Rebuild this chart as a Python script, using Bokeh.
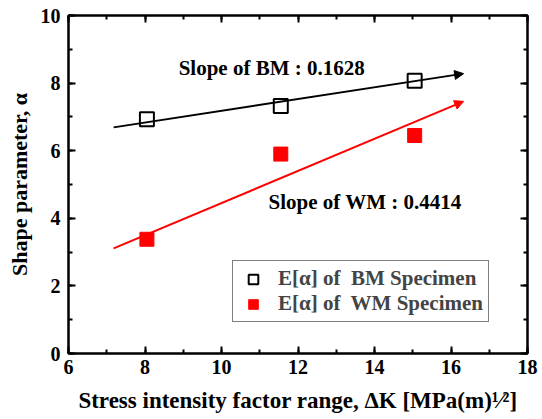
from bokeh.plotting import figure
from bokeh.models import (Range1d, LinearAxis, SingleIntervalTicker, Arrow, NormalHead,
                          Label, Legend, LegendItem, ColumnDataSource)
from bokeh.embed import file_html
from bokeh.resources import INLINE

# data
dk = [8.05, 11.55, 15.05]
bm_alpha = [6.93, 7.32, 8.07]
wm_alpha = [3.38, 5.90, 6.45]
fit_x = [7.18, 16.33]
bm_fit = [6.69, 8.28]
wm_fit = [3.11, 7.46]
bm_slope_text = "Slope of BM : 0.1628"
wm_slope_text = "Slope of WM : 0.4414"
x_ticks = [6, 8, 10, 12, 14, 16, 18]
y_ticks = [0, 2, 4, 6, 8, 10]

FONT = "Liberation Serif"

p = figure(width=542, height=419, output_backend="svg", toolbar_location=None,
           x_range=Range1d(6, 18), y_range=Range1d(0, 10),
           min_border_left=68, min_border_right=15, min_border_top=15, min_border_bottom=66)
p.grid.visible = False
p.outline_line_color = "black"
p.outline_line_width = 2
p.background_fill_color = "white"
p.border_fill_color = "white"

p.xaxis.ticker = SingleIntervalTicker(interval=2, num_minor_ticks=2)
p.yaxis.ticker = SingleIntervalTicker(interval=2, num_minor_ticks=2)

def style_axis(ax):
    ax.axis_line_width = 2
    ax.axis_line_color = "black"
    ax.major_tick_in = 7
    ax.major_tick_out = 0
    ax.minor_tick_in = 4
    ax.minor_tick_out = 0
    ax.major_tick_line_width = 2
    ax.minor_tick_line_width = 2
    ax.major_label_text_font = FONT
    ax.major_label_text_font_style = "bold"
    ax.major_label_text_font_size = "20px"
    ax.major_label_text_color = "black"
    ax.axis_label_text_font = FONT
    ax.axis_label_text_font_style = "bold"
    ax.axis_label_text_font_size = "23px"
    ax.axis_label_text_color = "black"

style_axis(p.xaxis[0])
style_axis(p.yaxis[0])
p.yaxis.axis_label_text_font_size = "22px"
p.xaxis.major_label_standoff = 6
p.yaxis.major_label_standoff = 8
p.xaxis.axis_label = "Stress intensity factor range, \u0394K [MPa(m)\u00b9\u2044\u00b2]"
p.yaxis.axis_label = "Shape parameter, \u03b1"
p.xaxis.axis_label_standoff = 11
p.yaxis.axis_label_standoff = 6

top = LinearAxis(ticker=SingleIntervalTicker(interval=2, num_minor_ticks=2))
right = LinearAxis(ticker=SingleIntervalTicker(interval=2, num_minor_ticks=2))
style_axis(top)
style_axis(right)
top.major_label_overrides = {t: "" for t in x_ticks}
right.major_label_overrides = {t: "" for t in y_ticks}
top.major_label_standoff = 0
right.major_label_standoff = 0
p.add_layout(top, "above")
p.add_layout(right, "right")

# fit lines with arrows
p.add_layout(Arrow(x_start=fit_x[0], y_start=bm_fit[0], x_end=fit_x[1], y_end=bm_fit[1],
                   line_color="black", line_width=2,
                   end=NormalHead(size=9, fill_color="black", line_color="black", line_width=1)))
p.add_layout(Arrow(x_start=fit_x[0], y_start=wm_fit[0], x_end=fit_x[1], y_end=wm_fit[1],
                   line_color="red", line_width=2,
                   end=NormalHead(size=9, fill_color="red", line_color="red", line_width=1)))

src = ColumnDataSource(dict(x=dk, bm=bm_alpha, wm=wm_alpha))
r_bm = p.scatter("x", "bm", source=src, marker="square", size=14, fill_color="white",
                 line_color="black", line_width=2)
r_wm = p.scatter("x", "wm", source=src, marker="square", size=14, fill_color="red",
                 line_color="red", line_width=1)

p.add_layout(Label(x=8.88, y=8.46, text=bm_slope_text, text_font=FONT, text_font_style="bold",
                   text_font_size="21px", text_baseline="middle", text_color="black"))
p.add_layout(Label(x=11.23, y=4.47, text=wm_slope_text, text_font=FONT, text_font_style="bold",
                   text_font_size="21px", text_baseline="middle", text_color="black"))

legend = Legend(items=[LegendItem(label="E[\u03b1] of  BM Specimen", renderers=[r_bm]),
                       LegendItem(label="E[\u03b1] of  WM Specimen", renderers=[r_wm])],
                location=(164, 31))
legend.label_text_font = FONT
legend.label_text_font_style = "bold"
legend.label_text_font_size = "21px"
legend.border_line_color = "black"
legend.border_line_width = 1
legend.background_fill_alpha = 1
legend.padding = 5
legend.spacing = 0
legend.margin = 0
legend.label_height = 24
legend.glyph_height = 24
legend.glyph_width = 30
legend.label_standoff = 10
p.add_layout(legend)

open("out.html", "w").write(file_html(p, INLINE))
